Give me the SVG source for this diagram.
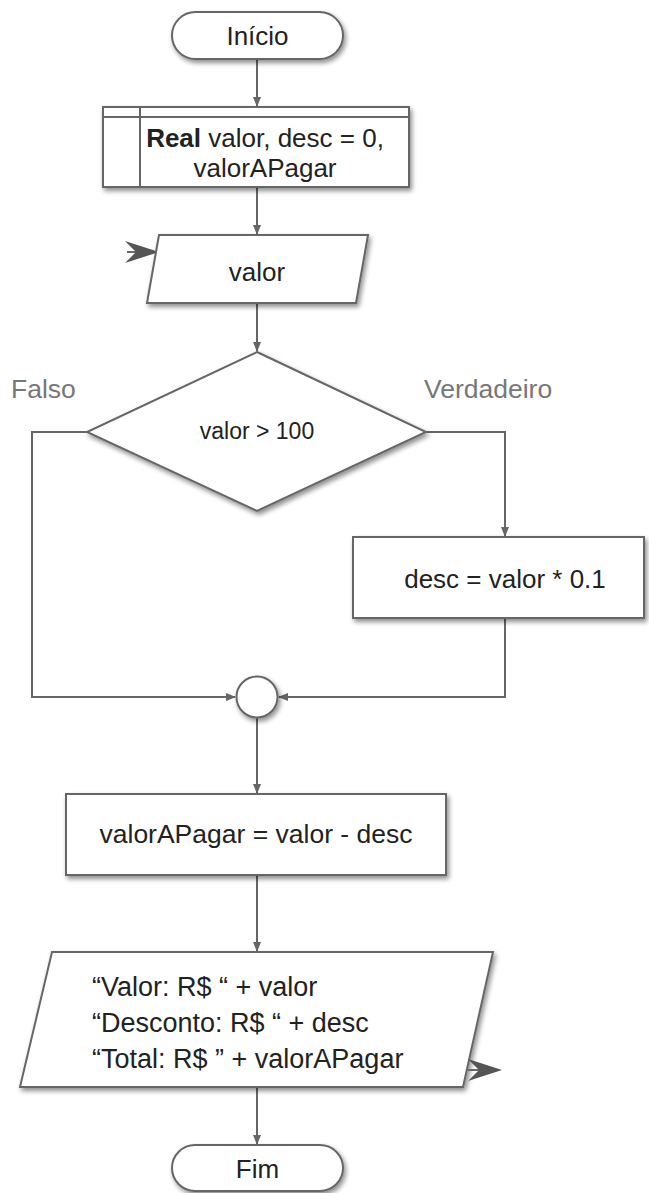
<svg xmlns="http://www.w3.org/2000/svg" width="649" height="1193" viewBox="0 0 649 1193">
<style>
.shape{fill:#fff;stroke:#666;stroke-width:2;filter:url(#sh)}
.line{fill:none;stroke:#666;stroke-width:2}
.t{font-family:"Liberation Sans",Arial,sans-serif;font-size:26px;fill:#222}
.lbl{font-family:"Liberation Sans",Arial,sans-serif;font-size:26.5px;fill:#777}
.io{fill:#555;stroke:none}
</style>
<defs>
<filter id="sh" x="-10%" y="-10%" width="130%" height="140%">
<feGaussianBlur in="SourceAlpha" stdDeviation="2.5"/>
<feOffset dx="2" dy="3" result="b"/>
<feComponentTransfer><feFuncA type="linear" slope="0.45"/></feComponentTransfer>
<feMerge><feMergeNode/><feMergeNode in="SourceGraphic"/></feMerge>
</filter>
<marker id="ah" markerWidth="10" markerHeight="10" refX="9" refY="5" orient="auto" markerUnits="userSpaceOnUse">
<path d="M0,1 L10,5 L0,9 Z" fill="#666"/>
</marker>
</defs>
<g id="connectors">
<path class="line" d="M257,59 V106" marker-end="url(#ah)"/>
<path class="line" d="M257,187 V234" marker-end="url(#ah)"/>
<path class="line" d="M257,303 V351" marker-end="url(#ah)"/>
<path class="line" d="M87,432 H32 V697 H235" marker-end="url(#ah)"/>
<path class="line" d="M426,432 H505 V536" marker-end="url(#ah)"/>
<path class="line" d="M505,618 V697 H279" marker-end="url(#ah)"/>
<path class="line" d="M257,718 V793" marker-end="url(#ah)"/>
<path class="line" d="M257,875 V951" marker-end="url(#ah)"/>
<path class="line" d="M257,1087 V1144" marker-end="url(#ah)"/>
</g>
<g id="inicio">
<rect class="shape" x="172" y="12" width="171" height="47" rx="23.5"/>
<text class="t" x="257.5" y="45" text-anchor="middle">Início</text>
</g>
<g id="declaracao">
<rect class="shape" x="103" y="107" width="306" height="80"/>
<path class="line" d="M103,117 H409 M140,107 V187"/>
<text class="t" x="265" y="147" text-anchor="middle"><tspan font-weight="bold">Real</tspan> valor, desc = 0,</text>
<text class="t" x="265" y="177" text-anchor="middle">valorAPagar</text>
</g>
<g id="entrada">
<path class="line" d="M127,252 H150" stroke-width="2.5"/>
<path class="io" d="M159,252 L125,241 L136,252 L125,263 Z"/>
<polygon class="shape" points="159,235 368,235 356,303 147,303"/>
<text class="t" x="257" y="281" text-anchor="middle">valor</text>
</g>
<g id="decisao">
<polygon class="shape" points="257,352 426,432 257,511 87,432"/>
<text class="t" x="257" y="439" text-anchor="middle" style="font-size:23px">valor &gt; 100</text>
<text class="lbl" x="11" y="398">Falso</text>
<text class="lbl" x="424" y="398">Verdadeiro</text>
</g>
<g id="desconto">
<rect class="shape" x="353" y="537" width="291" height="81"/>
<text class="t" x="505" y="588" text-anchor="middle">desc = valor * 0.1</text>
</g>
<g id="juncao">
<circle class="shape" cx="257" cy="697" r="20.5"/>
</g>
<g id="calculo">
<rect class="shape" x="66" y="794" width="380" height="81"/>
<text class="t" x="256" y="843" text-anchor="middle" style="font-size:26.5px">valorAPagar = valor - desc</text>
</g>
<g id="saida">
<polygon class="shape" points="52,952 493,952 463,1087 20,1087"/>
<g class="t" style="font-size:27px">
<text x="92" y="996">“Valor: R$ “ + valor</text>
<text x="92" y="1032">“Desconto: R$ “ + desc</text>
<text x="92" y="1068">“Total: R$ ” + valorAPagar</text>
</g>
<path class="line" d="M468,1070 H492" stroke-width="2.5"/>
<path class="io" d="M502,1070 L468,1059 L479,1070 L468,1081 Z"/>
</g>
<g id="fim">
<rect class="shape" x="172" y="1145" width="171" height="46" rx="23"/>
<text class="t" x="257.5" y="1178" text-anchor="middle">Fim</text>
</g>
</svg>
